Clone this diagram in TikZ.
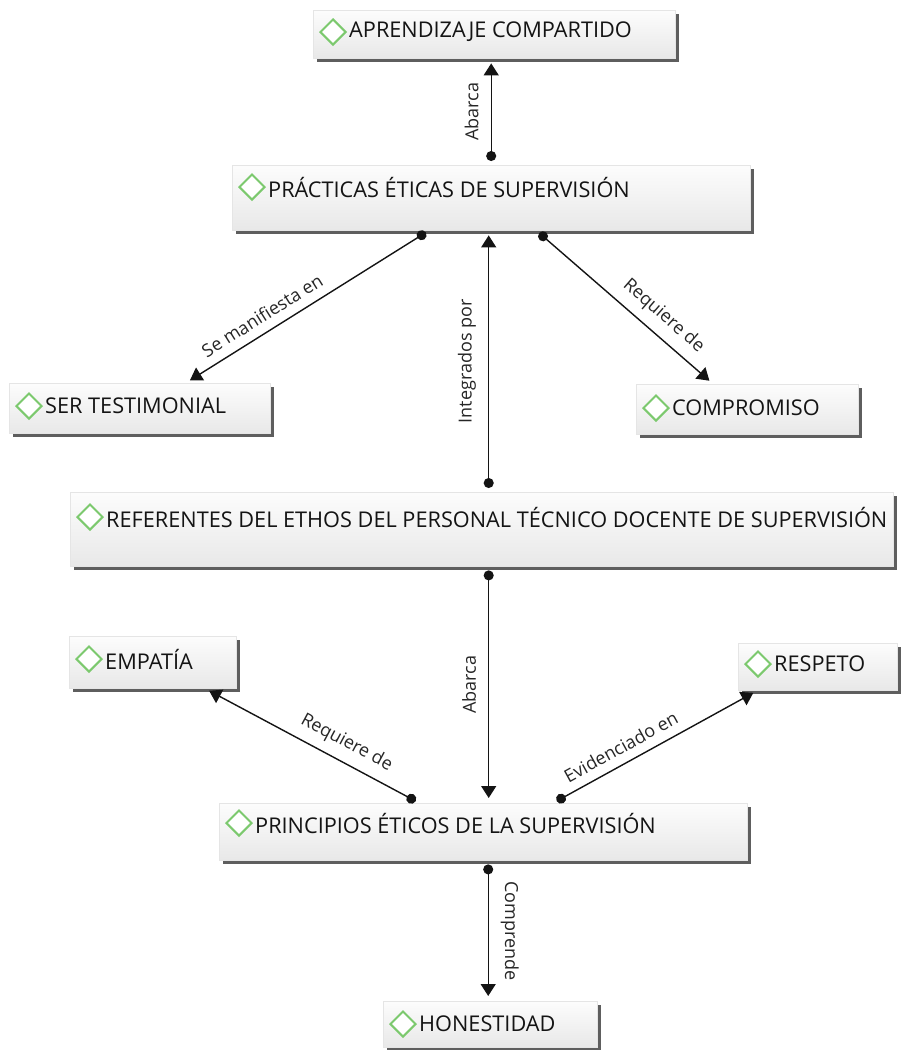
\documentclass[tikz,border=0pt]{standalone}
\usepackage{fontspec}
\setmainfont{Open Sans}
\usetikzlibrary{arrows.meta,shapes.geometric,shadows}
\definecolor{icongreen}{HTML}{7CC96E}
\definecolor{ink}{HTML}{141414}
\definecolor{shadowgray}{HTML}{5E5E5E}

\begin{document}
\begin{tikzpicture}[x=1pt,y=-1pt,
  cbox/.style={anchor=north west, inner sep=0, draw=black!10, line width=0.4pt,
    top color=black!1, bottom color=black!9,
    drop shadow={shadow xshift=4pt, shadow yshift=-4pt, fill=shadowgray, opacity=1}},
  icon/.style={diamond, draw=icongreen, fill=white, line width=2pt,
    minimum width=26pt, minimum height=26pt, inner sep=0},
  ctext/.style={anchor=west, inner sep=0, text=ink, font=\fontsize{21.7}{26}\selectfont},
  link/.style={draw=ink, line width=1.4pt,
    {Circle[length=10pt]}-{Triangle[width=15pt,length=12pt]},
    shorten <=4pt, shorten >=5pt},
  lbl/.style={inner sep=2pt, text=black!85, font=\fontsize{18}{22}\selectfont},
]
\useasboundingbox (0,0) rectangle (901,1050);

% concept boxes: frame, green diamond icon, caption
\node[cbox, minimum width=362pt, minimum height=48pt] (ap) at (313,10) {};
\node[icon] (ap-i) at (333,32) {};
\node[ctext] (ap-t) at (349,32) {APRENDIZAJE COMPARTIDO};

\node[cbox, minimum width=518pt, minimum height=65pt] (prac) at (232,165) {};
\node[icon] (prac-i) at (252,187) {};
\node[ctext] (prac-t) at (268,187) {PRÁCTICAS ÉTICAS DE SUPERVISIÓN};

\node[cbox, minimum width=261pt, minimum height=50pt] (ser) at (9,383) {};
\node[icon] (ser-i) at (29,406) {};
\node[ctext] (ser-t) at (45,406) {SER TESTIMONIAL};

\node[cbox, minimum width=222pt, minimum height=50pt] (comp) at (636,384) {};
\node[icon] (comp-i) at (656,408) {};
\node[ctext] (comp-t) at (672,408) {COMPROMISO};

\node[cbox, minimum width=823pt, minimum height=74pt] (ref) at (70,492) {};
\node[icon] (ref-i) at (90,517) {};
\node[ctext] (ref-t) at (106,517) {REFERENTES DEL ETHOS DEL PERSONAL TÉCNICO DOCENTE DE SUPERVISIÓN};

\node[cbox, minimum width=167pt, minimum height=52pt] (emp) at (69,636) {};
\node[icon] (emp-i) at (89,659) {};
\node[ctext] (emp-t) at (105,659) {EMPATÍA};

\node[cbox, minimum width=159pt, minimum height=47pt] (resp) at (738,643) {};
\node[icon] (resp-i) at (758,664) {};
\node[ctext] (resp-t) at (774,664) {RESPETO};

\node[cbox, minimum width=528pt, minimum height=57pt] (princ) at (219,803) {};
\node[icon] (princ-i) at (239,823) {};
\node[ctext] (princ-t) at (255,823) {PRINCIPIOS ÉTICOS DE LA SUPERVISIÓN};

\node[cbox, minimum width=214pt, minimum height=46pt] (hon) at (383,1001) {};
\node[icon] (hon-i) at (403,1024) {};
\node[ctext] (hon-t) at (419,1024) {HONESTIDAD};

% relations
\draw[link] (prac.north) -- (prac.north |- ap.south)
  node[lbl, midway, xshift=-10pt, rotate=90, anchor=south] {Abarca};

\draw[link] ([xshift=-62pt]prac.south) -- ([xshift=46pt]ser.north)
  node[lbl, pos=0.65, sloped, above=7pt] {Se manifiesta en};

\draw[link] ([xshift=7pt]ref.north) -- ([xshift=7pt]ref.north |- prac.south)
  node[lbl, midway, xshift=-10pt, rotate=90, anchor=south] {Integrados por};

\draw[link] ([xshift=45pt]prac.south) -- ([xshift=-34pt]comp.north)
  node[lbl, pos=0.65, sloped, above=7pt] {Requiere de};

\draw[link] ([xshift=7pt]ref.south) -- ([xshift=7pt]ref.south |- princ.north)
  node[lbl, midway, xshift=-10pt, rotate=90, anchor=south] {Abarca};

\draw[link] ([xshift=-64pt]princ.north) -- ([xshift=52pt]emp.south)
  node[lbl, pos=0.38, sloped, above=7pt] {Requiere de};

\draw[link] ([xshift=70pt]princ.north) -- ([xshift=-60pt]resp.south)
  node[lbl, pos=0.37, sloped, above=7pt] {Evidenciado en};

\draw[link] ([xshift=5pt]princ.south) -- ([xshift=5pt]princ.south |- hon.north)
  node[lbl, midway, xshift=10pt, rotate=-90, anchor=south] {Comprende};
\end{tikzpicture}
\end{document}
